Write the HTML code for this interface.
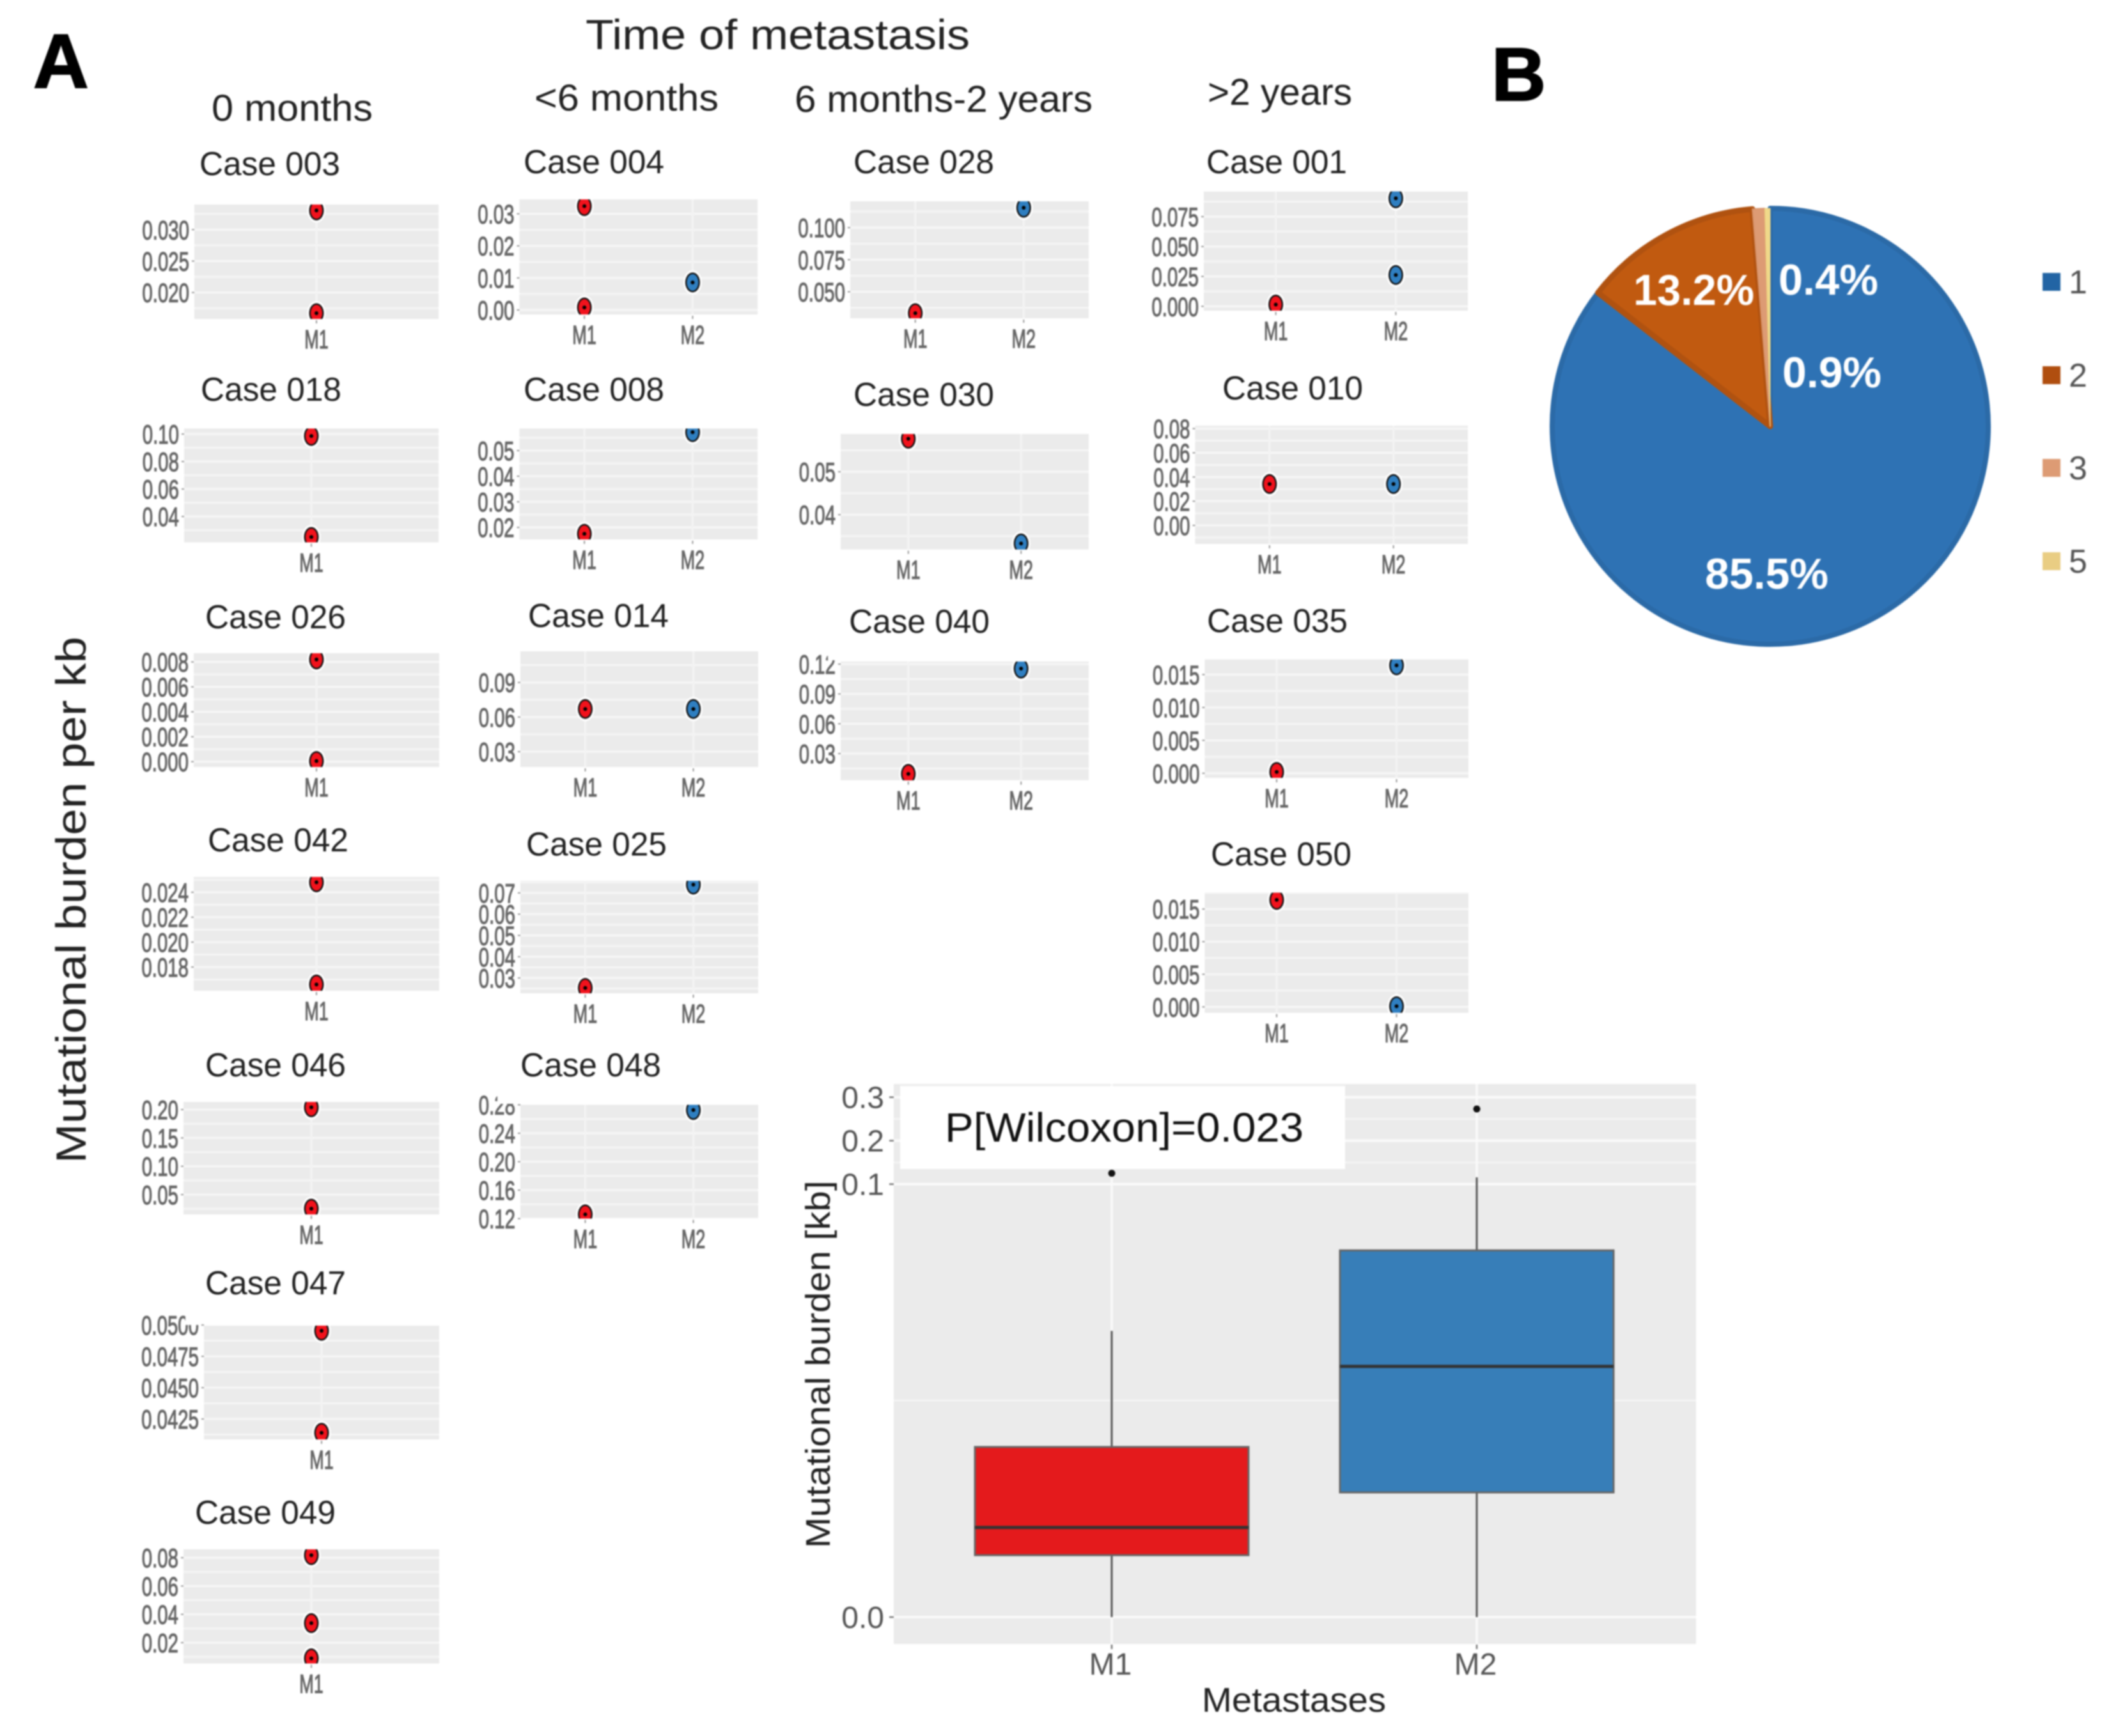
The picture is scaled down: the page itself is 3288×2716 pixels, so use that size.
<!DOCTYPE html>
<html lang="en">
<head>
<meta charset="utf-8">
<title>Mutational burden per kb in metastases</title>
<style>
html,body{margin:0;padding:0;background:#fff;}
svg{display:block;font-family:"Liberation Sans",Arial,sans-serif;filter:blur(1px);}
</style>
</head>
<body>
<svg id="figure" xmlns="http://www.w3.org/2000/svg" width="3288" height="2716" viewBox="0 0 3288 2716">
  <rect x="0" y="0" width="3288" height="2716" fill="#ffffff"/>
  <text x="52" y="137" font-size="120" font-weight="700" fill="#000" stroke="#000" stroke-width="2">A</text>
  <text x="2333" y="157" font-size="118" font-weight="700" fill="#000" stroke="#000" stroke-width="2">B</text>
  <text x="916" y="77" font-size="66" fill="#222" textLength="601" lengthAdjust="spacingAndGlyphs">Time of metastasis</text>
  <text x="331" y="189" font-size="58" fill="#222" textLength="252" lengthAdjust="spacingAndGlyphs">0 months</text>
  <text x="836" y="173" font-size="58" fill="#222" textLength="288" lengthAdjust="spacingAndGlyphs">&lt;6 months</text>
  <text x="1243" y="175" font-size="58" fill="#222" textLength="466" lengthAdjust="spacingAndGlyphs">6 months-2 years</text>
  <text x="1889" y="164" font-size="58" fill="#222" textLength="226" lengthAdjust="spacingAndGlyphs">&gt;2 years</text>
  <text transform="translate(134 1820) rotate(-90)" font-size="66" fill="#222" textLength="824" lengthAdjust="spacingAndGlyphs">Mutational burden per kb</text>
  <g id="small-multiples"></g>
  <g id="pie-layer"></g>
  <g id="box-layer"></g>
</svg>
<script>
/* ---------- Case panel data ---------- */
const caseIds = ['003','018','026','042','046','047','049','004','008','014','025','048','028','030','040','001','010','035','050'];
const caseM1Values = [
  [0.03305,0.01672],[0.0986,0.0251],[0.0082,0.00005],[0.0248,0.0166],[0.204,0.0252],[0.04954,0.0414],[0.0818,0.0338,0.0089],
  [0.0324,0.0008],[0.0175],[0.067],[0.0253],[0.1259],
  [0.0333],[0.0577],[0.0096],
  [0.0015],[0.0342],[0.0002],[0.0164]
];
const caseM2Values = [
  [],[],[],[],[],[],[],
  [0.0086],[0.0572],[0.067],[0.0739],[0.2727],
  [0.1155],[0.0333],[0.1155],
  [0.0903,0.0262],[0.0342],[0.0164],[0.0001]
];
const caseTickLabels = [
  ['0.030','0.025','0.020'],['0.10','0.08','0.06','0.04'],['0.008','0.006','0.004','0.002','0.000'],['0.024','0.022','0.020','0.018'],['0.20','0.15','0.10','0.05'],['0.0500','0.0475','0.0450','0.0425'],['0.08','0.06','0.04','0.02'],
  ['0.03','0.02','0.01','0.00'],['0.05','0.04','0.03','0.02'],['0.09','0.06','0.03'],['0.07','0.06','0.05','0.04','0.03'],['0.28','0.24','0.20','0.16','0.12'],
  ['0.100','0.075','0.050'],['0.05','0.04'],['0.12','0.09','0.06','0.03'],
  ['0.075','0.050','0.025','0.000'],['0.08','0.06','0.04','0.02','0.00'],['0.015','0.010','0.005','0.000'],['0.015','0.010','0.005','0.000']
];
const caseDomainLow = [0.0158,0.0212,-0.00043,0.0161,0.015,0.04087,0.0053,-0.0014,0.0153,0.0167,0.0228,0.12,0.0293,0.0319,0.0032,-0.0036,-0.0153,-0.0007,-0.0009];
const caseDomainHigh = [0.03399,0.104,0.0087,0.02523,0.2135,0.04995,0.0859,0.0345,0.0586,0.117,0.0757,0.28,0.1205,0.0588,0.1226,0.096,0.0824,0.0173,0.0175];
const seriesCategories = ['M1','M2'];

/* Page layout of the panels (not data): left, top, right, bottom, title x, title baseline */
const panelLayout = [
  [304,320,686,499,312,274],[288,670.5,686,848.5,314,627],[303,1022,687,1200,321,983],[303,1372,687,1550,325,1332],[287,1724,687,1900,321,1684],[319,2074,687,2252,321,2025],[287,2424,687,2602.5,305,2384],
  [812.5,312,1185,492,819,271],[812.5,670.5,1185,844,819,627],[814,1019,1186,1200,826,981],[814,1378,1186,1554,823,1338.5],[814,1728.5,1186,1906.5,814,1684],
  [1330,315,1703,498,1335,271],[1315,679,1703,859.6,1335,635],[1315,1035,1703,1220.7,1328,990],
  [1883,299.6,2296,486,1887,271],[1869.5,666,2296,851,1912,625],[1884.5,1031.7,2297,1217,1888,989],[1884.5,1396.7,2297,1584.5,1894,1354]
];
/* White patches that crop the tops of a few tick labels in the source image */
const labelCrops = [[778,1690,30,37],[290,2040,24,33],[1295,1018,14,15]];

/* ---------- Pie data ---------- */
const pieCategories = ['1','2','3','5'];
const pieShares = [85.5,13.2,0.9,0.4];
const pieValueLabels = ['85.5%','13.2%','0.9%','0.4%'];

/* ---------- Boxplot data ---------- */
const boxCategories = ['M1','M2'];
const boxQ1 = [0.0143,0.0288];
const boxMedian = [0.0207,0.0579];
const boxQ3 = [0.0393,0.0847];
const boxWhiskerLow = [0,0];
const boxWhiskerHigh = [0.0661,0.1156];
const boxOutliers = [0.125,0.273];
const boxTickLabels = ['0.0','0.1','0.2','0.3'];
const boxMinorTicks = [0.05,0.15,0.25];

const NS = 'http://www.w3.org/2000/svg';
function mk(tag, attrs, parent) {
  const n = document.createElementNS(NS, tag);
  for (const k in attrs) n.setAttribute(k, attrs[k]);
  parent.appendChild(n);
  return n;
}

/* ---------- Case panels ---------- */
const casesRoot = document.getElementById('small-multiples');
const defs = mk('defs', {}, casesRoot);

function yScale(i, v) {
  const b = panelLayout[i];
  return b[3] - (v - caseDomainLow[i]) / (caseDomainHigh[i] - caseDomainLow[i]) * (b[3] - b[1]);
}
function xScale(i, c, n) {
  const b = panelLayout[i];
  return b[0] + (c + 0.6) / (n - 1 + 1.2) * (b[2] - b[0]);
}
function drawPoint(g, i, cat, n, v, fill, name) {
  const cx = xScale(i, cat, n), cy = yScale(i, v);
  let el = mk('ellipse', {cx: cx, cy: cy, rx: 14.5, ry: 19, fill: '#ffffff'}, g);
  
  
  el = mk('ellipse', {cx: cx, cy: cy, rx: 11.5, ry: 15.5, fill: '#111111'}, g);
  
  
  el = mk('ellipse', {cx: cx, cy: cy, rx: 9, ry: 13, fill: fill}, g);
  
  
  el = mk('circle', {cx: cx, cy: cy, r: 3, fill: '#000000'}, g);
  
  
}

caseIds.forEach(function (id, i) {
  const b = panelLayout[i];
  const hasM2 = caseM2Values[i].length > 0;
  const nCat = hasM2 ? 2 : 1;
  const ticks = caseTickLabels[i].map(parseFloat);
  const base = 'case-' + id;

  const group = mk('g', {}, casesRoot);
  
  

  const title = mk('text', {x: b[4], y: b[5], 'font-size': 52, fill: '#222', textLength: 220, lengthAdjust: 'spacingAndGlyphs'}, group);
  title.textContent = 'Case ' + id;
  
  

  const cp = mk('clipPath', {id: 'clip-' + id}, defs);
  mk('rect', {x: b[0], y: b[1], width: b[2] - b[0], height: b[3] - b[1]}, cp);

  const bg = mk('rect', {x: b[0], y: b[1], width: b[2] - b[0], height: b[3] - b[1], fill: '#ebebeb'}, group);
  
  

  const plot = mk('g', {'clip-path': 'url(#clip-' + id + ')'}, group);
  
  

  /* horizontal grid: majors on ticks, minors halfway */
  const tMin = Math.min.apply(null, ticks);
  const step = Math.abs(ticks[0] - ticks[1]);
  for (let k = -4; k < 40; k++) {
    const v = tMin + k * step / 2;
    if (v < caseDomainLow[i] || v > caseDomainHigh[i]) continue;
    const major = k % 2 === 0 && k >= 0 && k / 2 < ticks.length;
    const y = yScale(i, v);
    const gl = mk('line', {x1: b[0], x2: b[2], y1: y, y2: y, stroke: major ? '#f6f6f6' : '#f4f4f4', 'stroke-width': 3.5}, plot);
    
    
  }
  /* vertical grid + x ticks + x labels */
  for (let c = 0; c < nCat; c++) {
    const x = xScale(i, c, nCat);
    const vl = mk('line', {x1: x, x2: x, y1: b[1], y2: b[3], stroke: '#f3f3f3', 'stroke-width': 3.5}, plot);
    
    
    const tk = mk('line', {x1: x, x2: x, y1: b[3] + 2, y2: b[3] + 7, stroke: '#999', 'stroke-width': 2}, group);
    
    
    const xl = mk('text', {transform: 'translate(' + x + ' ' + (b[3] + 46) + ') scale(.66 1)', 'text-anchor': 'middle', 'font-size': 41, fill: '#666', stroke: '#666', 'stroke-width': 1.2}, group);
    xl.textContent = seriesCategories[c];
    
    
  }
  /* y ticks + labels */
  caseTickLabels[i].forEach(function (label, t) {
    const y = yScale(i, ticks[t]);
    const tk = mk('line', {x1: b[0] - 4, x2: b[0], y1: y, y2: y, stroke: '#999', 'stroke-width': 2}, group);
    
    
    const tl = mk('text', {transform: 'translate(' + (b[0] - 8) + ' ' + (y + 15) + ') scale(.7 1)', 'text-anchor': 'end', 'font-size': 42, fill: '#666', stroke: '#666', 'stroke-width': 1.2}, group);
    tl.textContent = label;
    
    
  });
  /* points */
  caseM1Values[i].forEach(function (v) {
    drawPoint(plot, i, 0, nCat, v, '#f2121c', base + '-point-m1');
  });
  caseM2Values[i].forEach(function (v) {
    drawPoint(plot, i, 1, nCat, v, '#2f7fc1', base + '-point-m2');
  });
});
labelCrops.forEach(function (r) {
  const m = mk('rect', {x: r[0], y: r[1], width: r[2], height: r[3], fill: '#ffffff'}, casesRoot);
  
  
});

/* ---------- Pie ---------- */
const pieRoot = document.getElementById('pie-layer');
const pieCx = 2769, pieCy = 667, pieR = 341;
const pieFill = ['#2e72b4','#c15a10','#dd9b74','#f0d98a'];
const pieEdge = ['#2b6aa7','#b05210','#d8946c','#eed27f'];
const pieEdgeWidth = [8,9,2,1];
const legendFill = ['#2264a4','#b04e0f','#dd9b74','#e9cd83'];
const legendTop = [427,573,718,864];
const pieTextSpots = [[2667,921,193],[2555,477,189],[2788,606,155],[2782,461,156]];

function piePoint(share) {
  const a = share / 100 * 2 * Math.PI;
  return [pieCx + pieR * Math.sin(a), pieCy - pieR * Math.cos(a)];
}
let pieRun = 0;
const pieTotal = pieShares.reduce(function (a, b) { return a + b; }, 0);
pieShares.forEach(function (s, i) {
  const share = s / pieTotal * 100;
  const p0 = piePoint(pieRun), p1 = piePoint(pieRun + share);
  const large = share > 50 ? 1 : 0;
  const sl = mk('path', {
    d: 'M' + pieCx + ' ' + pieCy + 'L' + p0[0] + ' ' + p0[1] + 'A' + pieR + ' ' + pieR + ' 0 ' + large + ' 1 ' + p1[0] + ' ' + p1[1] + 'Z',
    fill: pieFill[i], stroke: pieEdge[i], 'stroke-width': pieEdgeWidth[i], 'stroke-linejoin': 'round'
  }, pieRoot);
  
  
  pieRun += share;
});
pieValueLabels.forEach(function (label, i) {
  const sp = pieTextSpots[i];
  const t = mk('text', {x: sp[0], y: sp[1], 'font-size': 68, 'font-weight': 700, fill: '#ffffff', textLength: sp[2], lengthAdjust: 'spacingAndGlyphs'}, pieRoot);
  t.textContent = label;
  
  
});
pieCategories.forEach(function (cat, i) {
  const sw = mk('rect', {x: 3195, y: legendTop[i], width: 28, height: 28, fill: legendFill[i]}, pieRoot);
  
  
  const t = mk('text', {x: 3236, y: legendTop[i] + 32, 'font-size': 52, fill: '#555'}, pieRoot);
  t.textContent = cat;
  
  
});

/* ---------- Boxplot ---------- */
const boxRoot = document.getElementById('box-layer');
const bx0 = 1398, bx1 = 2653, by0 = 1696, by1 = 2572;
const boxFill = ['#e41a1c','#377eb8'];
function boxY(v) {
  return v <= 0.1 ? 2530 - v * 6774 : 1852.6 - (v - 0.1) * 680;
}
function boxX(c) {
  return 1739 + c * 571;
}
const boxHalf = 214;

let be = mk('rect', {x: bx0, y: by0, width: bx1 - bx0, height: by1 - by0, fill: '#ebebeb'}, boxRoot);



boxMinorTicks.forEach(function (v) {
  const g = mk('line', {x1: bx0, x2: bx1, y1: boxY(v), y2: boxY(v), stroke: '#f5f5f5', 'stroke-width': 2.5}, boxRoot);
  
  
});
boxTickLabels.forEach(function (label) {
  const v = parseFloat(label), y = boxY(v);
  const g = mk('line', {x1: bx0, x2: bx1, y1: y, y2: y, stroke: '#fafafa', 'stroke-width': 4}, boxRoot);
  
  
  const k = mk('line', {x1: bx0 - 7, x2: bx0, y1: y, y2: y, stroke: '#777', 'stroke-width': 2.5}, boxRoot);
  
  
  const t = mk('text', {x: 1383, y: y + 17, 'text-anchor': 'end', 'font-size': 48, fill: '#555'}, boxRoot);
  t.textContent = label;
  
  
});
boxCategories.forEach(function (cat, c) {
  const x = boxX(c);
  const base = 'box-' + cat.toLowerCase();
  let el = mk('line', {x1: x, x2: x, y1: by0, y2: by1, stroke: '#fafafa', 'stroke-width': 3.5}, boxRoot);
  
  
  el = mk('line', {x1: x, x2: x, y1: by1 + 1, y2: by1 + 8, stroke: '#777', 'stroke-width': 2.5}, boxRoot);
  
  
  el = mk('line', {x1: x, x2: x, y1: boxY(boxWhiskerHigh[c]), y2: boxY(boxQ3[c]), stroke: '#555', 'stroke-width': 3}, boxRoot);
  
  
  el = mk('line', {x1: x, x2: x, y1: boxY(boxQ1[c]), y2: boxY(boxWhiskerLow[c]), stroke: '#555', 'stroke-width': 3}, boxRoot);
  
  
  el = mk('rect', {x: x - boxHalf, y: boxY(boxQ3[c]), width: boxHalf * 2, height: boxY(boxQ1[c]) - boxY(boxQ3[c]), fill: boxFill[c], stroke: '#666', 'stroke-width': 3}, boxRoot);
  
  
  el = mk('line', {x1: x - boxHalf, x2: x + boxHalf, y1: boxY(boxMedian[c]), y2: boxY(boxMedian[c]), stroke: '#333', 'stroke-width': 5}, boxRoot);
  
  
  el = mk('circle', {cx: x, cy: boxY(boxOutliers[c]), r: 5.5, fill: '#111'}, boxRoot);
  
  
  el = mk('text', {x: x - 2, y: 2620, 'text-anchor': 'middle', 'font-size': 48, fill: '#555'}, boxRoot);
  el.textContent = cat;
  
  
});
let note = mk('rect', {x: 1408, y: 1699, width: 696, height: 130, fill: '#ffffff'}, boxRoot);


note = mk('text', {x: 1478, y: 1786, 'font-size': 64, fill: '#111', textLength: 561, lengthAdjust: 'spacingAndGlyphs'}, boxRoot);
note.textContent = 'P[Wilcoxon]=0.023';


note = mk('text', {x: 1880, y: 2678, 'font-size': 54, fill: '#222', textLength: 288, lengthAdjust: 'spacingAndGlyphs'}, boxRoot);
note.textContent = 'Metastases';


note = mk('text', {transform: 'translate(1298 2422) rotate(-90)', 'font-size': 54, fill: '#222', textLength: 575, lengthAdjust: 'spacingAndGlyphs'}, boxRoot);
note.textContent = 'Mutational burden [kb]';


</script>
</body>
</html>
